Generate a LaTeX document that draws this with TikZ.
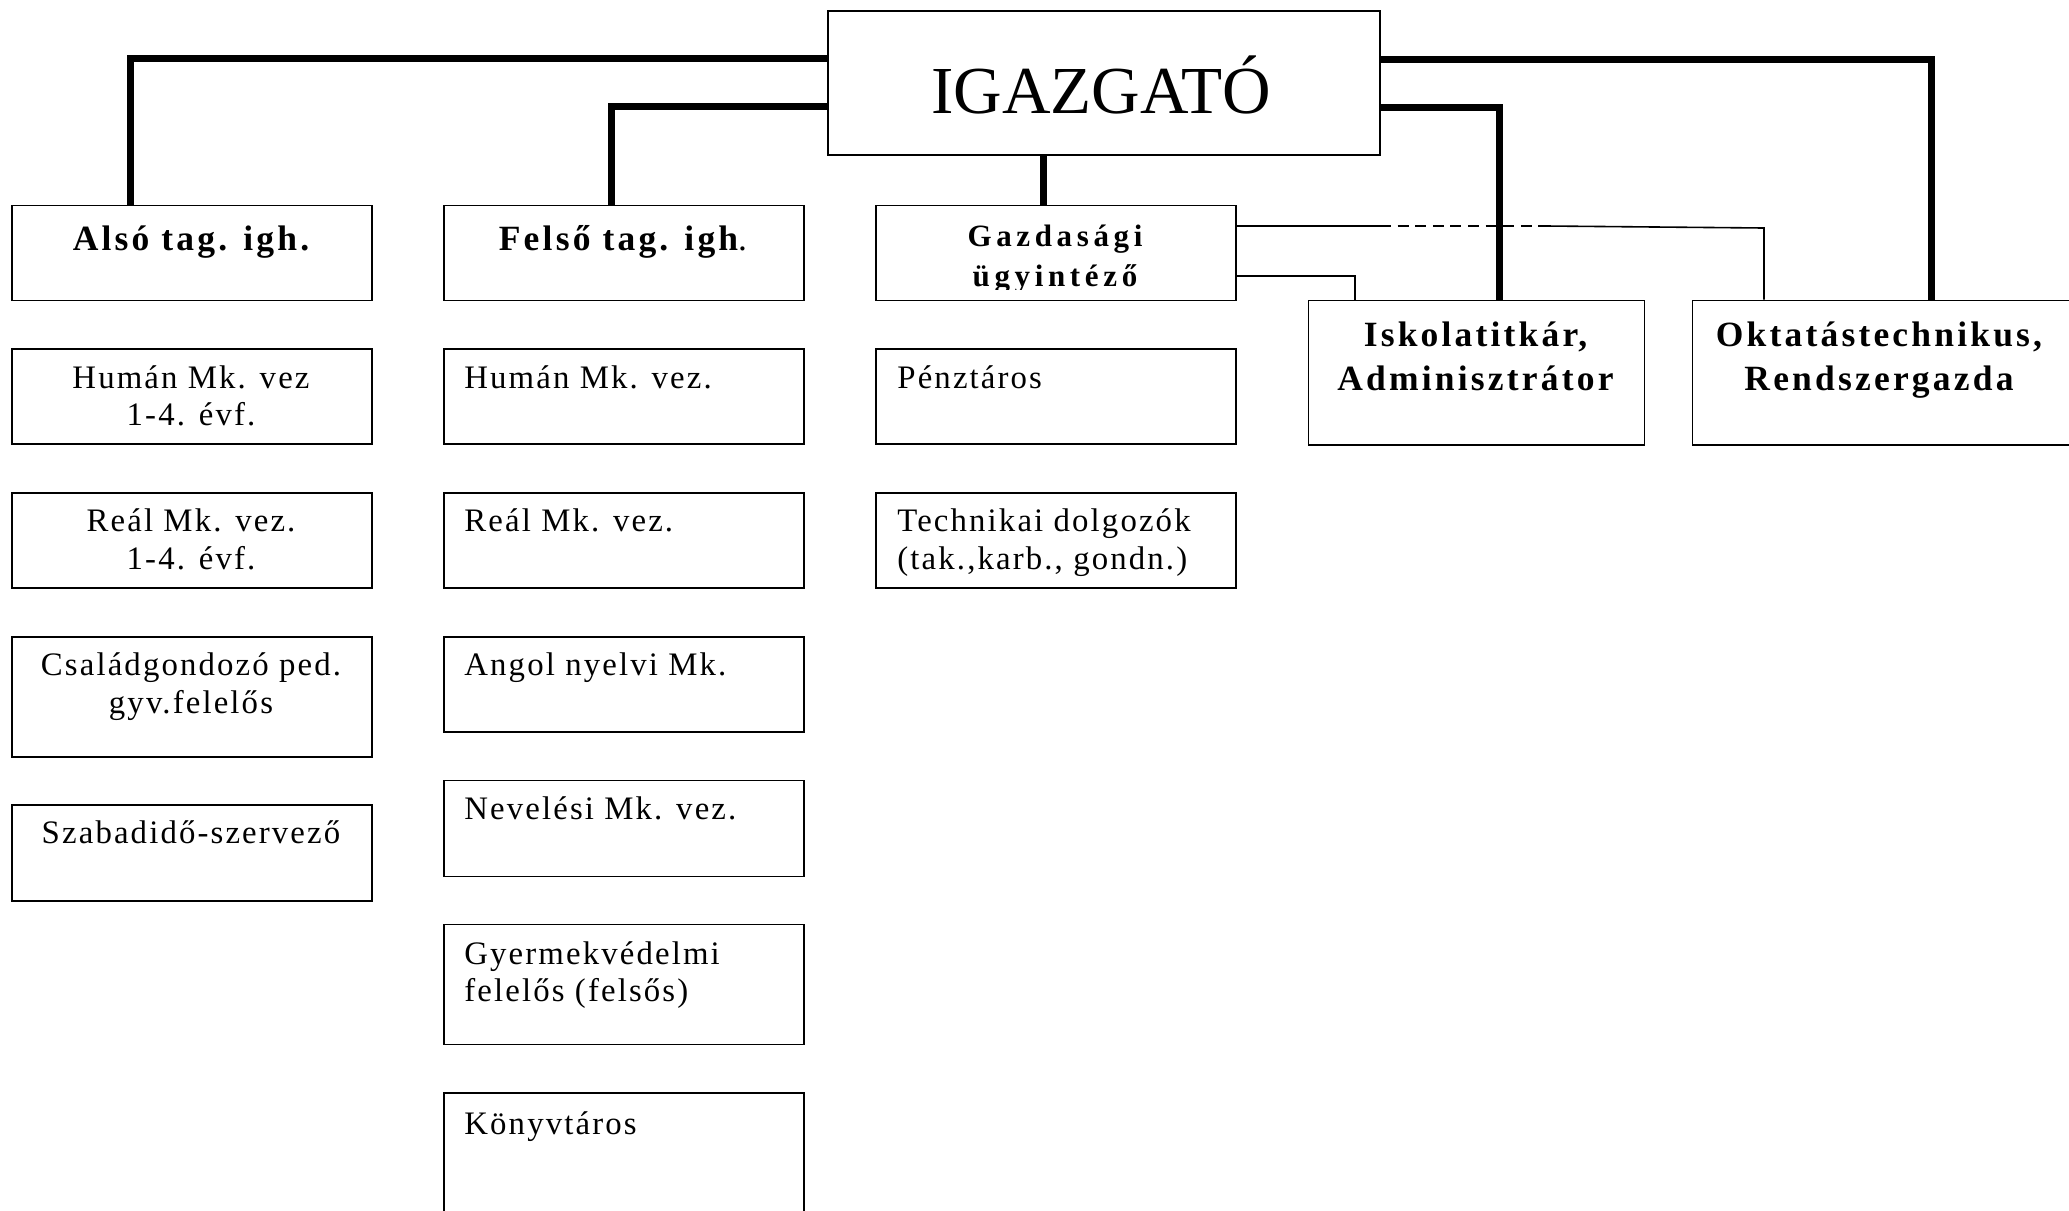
\documentclass[tikz,border=0pt]{standalone}
\usepackage{fontspec}
\setmainfont{Liberation Serif}
\newfontfamily\bodyf[LetterSpace=6.5]{Liberation Serif}
\newfontfamily\headf[LetterSpace=9]{Liberation Serif}
\newfontfamily\gazf[LetterSpace=15]{Liberation Serif}
\usetikzlibrary{calc}
\begin{document}
\begin{tikzpicture}[x=0.5pt,y=-0.5pt,
  box/.style={draw,line width=0.75pt,rectangle,anchor=north west,inner sep=0pt,minimum width=180pt,minimum height=47.5pt},
  txt/.style={inner sep=0pt,anchor=base,font=\bodyf\fontsize{16.4}{18.75}\selectfont},
  ltxt/.style={txt,anchor=base west},
  head/.style={inner sep=0pt,anchor=base,font=\headf\fontsize{17.75}{17.25}\selectfont\bfseries},
  gaz/.style={inner sep=0pt,anchor=base,font=\gazf\fontsize{15.5}{19.5}\selectfont\bfseries},
  mainline/.style={line width=3.5pt},
  subline/.style={line width=0.8pt}]
\useasboundingbox (0,0) rectangle (2069,1211);
\clip (0,0) rectangle (2069,1211);

% director
\node[box,minimum width=276pt,minimum height=72pt] (ig) at (827,10) {};
\node[inner sep=0pt,anchor=base,font=\fontsize{33.6}{33.6}\selectfont] (igt) at (1101,113) {IGAZGATÓ};

% column 1
\node[box] (also) at (11,204.5) {};
\node[head] (alsot) at (191,250.7) {Alsó tag. igh.};
\node[box] (h1) at (11,348.3) {};
\node[txt] (h1a) at (191,388.3) {Humán Mk. vez};
\node[txt] (h1b) at (191,425.8) {1-4. évf.};
\node[box] (r1) at (11,492.1) {};
\node[txt] (r1a) at (191,531.7) {Reál Mk. vez.};
\node[txt] (r1b) at (191,569.2) {1-4. évf.};
\node[box,minimum height=60pt] (cs) at (11,636) {};
\node[txt] (csa) at (191,675.6) {Családgondozó ped.};
\node[txt] (csb) at (191,713.1) {gyv.felelős};
\node[box,minimum height=48pt] (sz) at (11,804) {};
\node[txt] (sza) at (191,843.6) {Szabadidő-szervező};

% column 2
\node[box] (fe) at (443,204.5) {};
\node[head] (fet) at (623,250.7) {Felső tag. igh{\mdseries .}};
\node[box] (h2) at (443,348.3) {};
\node[ltxt] (h2a) at (464,388.3) {Humán Mk. vez.};
\node[box] (r2) at (443,492.1) {};
\node[ltxt] (r2a) at (464,531.7) {Reál Mk. vez.};
\node[box] (an) at (443,636) {};
\node[ltxt] (ana) at (464,675.6) {Angol nyelvi Mk.};
\node[box,minimum height=48pt] (ne) at (443,779.8) {};
\node[ltxt] (nea) at (464,819.4) {Nevelési Mk. vez.};
\node[box,minimum height=60pt] (gy) at (443,923.6) {};
\node[ltxt] (gya) at (464,964) {Gyermekvédelmi};
\node[ltxt] (gyb) at (464,1001.7) {felelős (felsős)};
\node[box,minimum height=100pt] (ko) at (443,1092.4) {};
\node[ltxt] (koa) at (464,1134) {Könyvtáros};

% column 3
\node[box] (ga) at (875,204.5) {};
\begin{scope}
  \clip (876,205) rectangle (1234,289.5);
  \node[gaz] (gaa) at (1055,246.7) {Gazdasági};
  \node[gaz] (gab) at (1055,286) {ügyintéző};
\end{scope}
\node[box] (pe) at (875,348.3) {};
\node[ltxt] (pea) at (897,388.3) {Pénztáros};
\node[box] (te) at (875,492.1) {};
\node[ltxt] (tea) at (897,531.7) {Technikai dolgozók};
\node[ltxt] (teb) at (897,569.2) {(tak.,karb., gondn.)};

% right boxes
\node[box,minimum width=168pt,minimum height=72.25pt] (isk) at (1307.5,299.5) {};
\node[head] (iska) at (1475.5,346) {Iskolatitkár,};
\node[head] (iskb) at (1475.5,390) {Adminisztrátor};
\node[box,minimum width=192pt,minimum height=72.25pt] (okt) at (1691.7,299.5) {};
\node[head] (okta) at (1879,346) {Oktatástechnikus,};
\node[head] (oktb) at (1879,390) {Rendszergazda};

% thick connectors
\draw[mainline] (ig.west |- 0,58) -| ($(also.north west)+(119.6,0)$);
\draw[mainline] (ig.west |- 0,106) -| ($(fe.north west)+(168,0)$);
\draw[mainline] (ig.south -| 1043.7,0) -- ($(ga.north west)+(168.7,0)$);
\draw[mainline] (ig.east |- 0,59.4) -| ($(okt.north west)+(240,0)$);
\draw[mainline] (ig.east |- 0,107.5) -| ($(isk.north west)+(191.5,0)$);

% thin connectors
\coordinate (d1) at (1380,226);
\coordinate (d2) at (1546,226);
\coordinate (d3) at (1764,228);
\draw[subline] (ga.east |- d1) -- (d1);
\draw[subline,dash pattern=on 5.5pt off 3.3pt] (d1) -- (d2);
\draw[subline] (d2) -- (d3) -- (d3 |- okt.north);
\draw[subline] (ga.east |- 0,276) -| ($(isk.north west)+(47.5,0)$);
\end{tikzpicture}
\end{document}
